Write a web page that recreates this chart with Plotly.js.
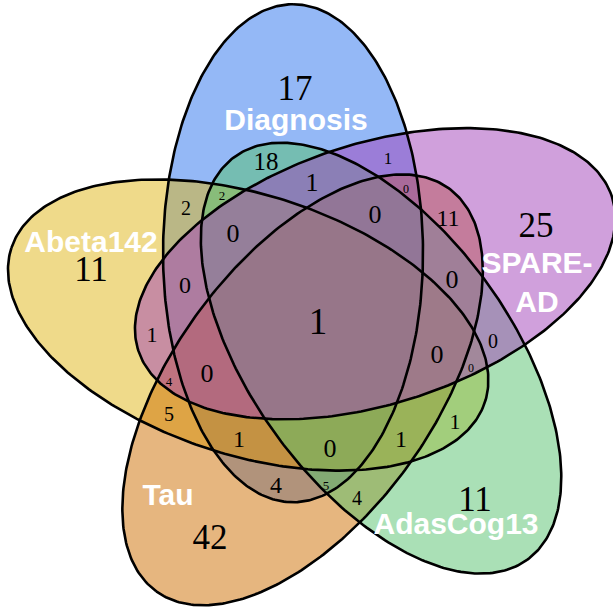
<!DOCTYPE html>
<html><head><meta charset="utf-8">
<script src="https://cdn.plot.ly/plotly-3.0.1.min.js"></script>
<style>html,body{margin:0;padding:0;background:#fff;}#chart{width:613px;height:607px;}</style>
</head><body><div id="chart"></div>
<script>
// ---- data ----
const setNames = ['Diagnosis', 'Abeta142', 'Tau', 'AdasCog13', 'SPARE-AD'];
const setKeys = ['D', 'A', 'T', 'G', 'S'];
const setLabelText = ['Diagnosis', 'Abeta142', 'Tau', 'AdasCog13', 'SPARE-<br>AD'];
const regionCodes = ['D','A','T','G','S','DG','DS','DGS','DTS','AD','ADG','ADGS','DTGS','TS','TGS','GS','ATGS','AGS','ADTGS','AS','ADS','ATS','ADTS','AT','AG','ADT','ADTG','ATG','DT','DTG','TG'];
const regionCounts = [17,11,42,11,25,18,1,1,0,2,2,0,0,11,0,0,0,0,1,1,0,4,0,5,1,1,0,1,4,5,4];

// ---- layout / style (not data) ----
const fillColors = ['rgba(41,113,237,0.5)','rgba(223,181,21,0.5)','rgba(205,109,0,0.5)','rgba(85,193,109,0.5)','rgba(161,65,185,0.5)'];
const geom = {cx: 320, cy: 320, dist: 72, offset0: 248, a: 249, b: 130, tip0: 270};
const regionLabelPos = [
  [295,91,35],[91,272,35],[210,540,35],[475,502,35],[536,228,35],
  [266,164,25],[388,160,17],[312,184,26],[406,190,12],[186,210,20],
  [222,197,13],[233,235,26],[375,216,26],[448,220,24],[452,281,26],
  [493,343,20],[437,356,26],[471,369,12],[318,325,37],[152,336,22],
  [185,287,24],[169,383,13],[207,375,26],[169,416,20],[455,423,22],
  [239,441,24],[330,450,26],[401,441,24],[276,487,24],[326,487,13],[357,500,20]
];
const setLabelPos = [[296,122],[91,244],[168,497],[456,526],[537,285]];

function ellipsePts(i) {
  const r = Math.PI / 180;
  const oa = (geom.offset0 - 72 * i) * r;
  const ta = (geom.tip0 - 72 * i) * r;
  const cx = geom.cx + geom.dist * Math.cos(oa), cy = geom.cy + geom.dist * Math.sin(oa);
  const ux = Math.cos(ta), uy = Math.sin(ta), vx = -uy, vy = ux;
  const xs = [], ys = [];
  for (let k = 0; k <= 360; k += 1) {
    const t = k * r;
    xs.push(cx + geom.a * Math.cos(t) * ux + geom.b * Math.sin(t) * vx);
    ys.push(cy + geom.a * Math.cos(t) * uy + geom.b * Math.sin(t) * vy);
  }
  return {xs, ys};
}

const traces = [];
const pts = setNames.map((_, i) => ellipsePts(i));
setNames.forEach((n, i) => {
  traces.push({type: 'scatter', mode: 'lines', x: pts[i].xs, y: pts[i].ys, fill: 'toself',
    fillcolor: fillColors[i], line: {width: 0, color: 'rgba(0,0,0,0)'}, hoverinfo: 'skip', name: n, showlegend: false});
});
setNames.forEach((n, i) => {
  traces.push({type: 'scatter', mode: 'lines', x: pts[i].xs, y: pts[i].ys,
    line: {width: 2.6, color: '#000'}, hoverinfo: 'skip', showlegend: false});
});
traces.push({type: 'scatter', mode: 'text',
  x: regionLabelPos.map(p => p[0]), y: regionLabelPos.map(p => p[1]),
  text: regionCounts.map(String), textposition: 'middle center',
  textfont: {family: 'Liberation Serif, Times New Roman, serif', color: '#000', size: regionLabelPos.map(p => p[2])},
  customdata: regionCodes, hoverinfo: 'text', showlegend: false});
traces.push({type: 'scatter', mode: 'text',
  x: setLabelPos.map(p => p[0]), y: setLabelPos.map(p => p[1]),
  text: setLabelText, textposition: 'middle center',
  textfont: {family: 'Liberation Sans, Arial, sans-serif', color: '#fff', size: 30, weight: 'bold'},
  hoverinfo: 'skip', showlegend: false});

const layout = {
  width: 613, height: 607, margin: {l: 0, r: 0, t: 0, b: 0},
  paper_bgcolor: '#fff', plot_bgcolor: '#fff', showlegend: false,
  xaxis: {range: [0, 613], visible: false, fixedrange: true},
  yaxis: {range: [607, 0], visible: false, fixedrange: true}
};
Plotly.newPlot('chart', traces, layout, {displayModeBar: false, staticPlot: true});
</script></body></html>
